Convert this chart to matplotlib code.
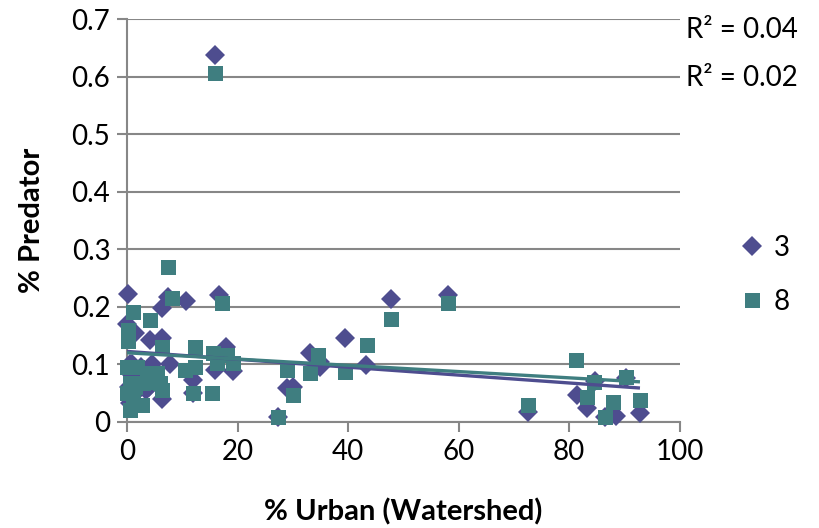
#!/usr/bin/env python3
# Scatter of % predator vs % urban watershed, two sampling series with trendlines.

import matplotlib
matplotlib.use('Agg')
import matplotlib.pyplot as plt
import numpy as np


# Series "3" (diamonds).
x3 = [0.2, 0.0, 1.4, 0.5, 0.3, 0.5, 1.0, 2.0, 3.0, 4.2, 4.5, 5.0, 6.3, 6.3,
      7.4, 6.3, 7.8, 10.7, 11.9, 11.9, 15.9, 16.6, 15.9, 17.9, 19.2, 17.0,
      2.5, 3.5, 0.5, 1.5, 2.0, 3.0, 4.0, 5.0, 1.0, 2.5,
      27.3, 28.9, 30.0, 33.1, 34.9, 35.0, 39.4, 43.2, 47.7, 58.0,
      72.5, 81.4, 83.3, 84.6, 86.4, 88.4, 90.3, 92.8]
y3 = [0.222, 0.170, 0.155, 0.100, 0.060, 0.033, 0.045, 0.090, 0.075, 0.143,
      0.100, 0.090, 0.146, 0.198, 0.217, 0.040, 0.100, 0.210, 0.073, 0.050,
      0.637, 0.220, 0.090, 0.130, 0.088, 0.115, 0.065, 0.055,
      0.085, 0.070, 0.055, 0.090, 0.060, 0.075, 0.100, 0.095,
      0.009, 0.059, 0.061, 0.120, 0.095, 0.105, 0.146, 0.099, 0.213, 0.220,
      0.017, 0.047, 0.024, 0.071, 0.008, 0.010, 0.077, 0.016]

# Series "8" (squares).
x8 = [0.2, 0.2, 1.1, 4.2, 6.3, 7.4, 8.1, 12.3, 15.6, 17.2, 18.1, 19.2, 16.3,
      10.5, 12.3, 15.4, 11.9, 6.3, 2.7, 0.5, 0.0, 1.8, 3.6, 5.4, 6.0, 0.5,
      2.9, 0.0, 1.1, 1.5, 4.0,
      27.3, 28.9, 30.0, 33.1, 34.5, 39.4, 43.4, 47.7, 58.0,
      72.5, 81.2, 83.2, 84.5, 86.4, 87.9, 90.2, 92.8, 15.9]
y8 = [0.160, 0.140, 0.191, 0.177, 0.130, 0.270, 0.215, 0.130, 0.120, 0.207,
      0.116, 0.102, 0.102, 0.090, 0.095, 0.050, 0.050, 0.056, 0.030, 0.020,
      0.095, 0.095, 0.085, 0.085, 0.068, 0.068, 0.068, 0.050, 0.043,
      0.060, 0.070,
      0.009, 0.090, 0.047, 0.085, 0.116, 0.087, 0.134, 0.179, 0.206,
      0.030, 0.108, 0.044, 0.070, 0.009, 0.035, 0.078, 0.038, 0.606]

series_labels = ['3', '8']
r2_labels = ['R² = 0.04', 'R² = 0.02']

color3 = '#4E4D8F'
color8 = '#3F7E80'
grid_color = '#878787'

plt.rcParams['font.family'] = ['Lato', 'DejaVu Sans']

fig = plt.figure(figsize=(8.19, 5.28), dpi=100)
ax = fig.add_axes([0.155, 0.2008, 0.675, 0.7632])

ax.plot(x3, y3, linestyle='none', marker='D', markersize=10.2,
        color=color3, markeredgewidth=0, label=series_labels[0],
        clip_on=False, zorder=3)
ax.plot(x8, y8, linestyle='none', marker='s', markersize=10.8,
        color=color8, markeredgewidth=0, label=series_labels[1],
        clip_on=False, zorder=4)

# Linear trendlines over each series' x range.
for xs, ys, c in [(x3, y3, color3), (x8, y8, color8)]:
    xs = np.array(xs)
    k, b = np.polyfit(xs, ys, 1)
    xx = np.array([xs.min(), xs.max()])
    ax.plot(xx, k * xx + b, color=c, linewidth=2.4, zorder=5,
            solid_capstyle='butt')

ax.set_xlim(0, 100)
ax.set_ylim(0, 0.7)
ax.set_xticks(np.arange(0, 101, 20))
ax.set_yticks(np.arange(0, 0.71, 0.1))
ax.set_yticklabels(['0'] + ['%.1f' % v for v in np.arange(0.1, 0.71, 0.1)])

ax.grid(axis='y', color=grid_color, linewidth=1.5)
ax.set_axisbelow(True)
for s in ['top', 'right']:
    ax.spines[s].set_visible(False)
for s in ['left', 'bottom']:
    ax.spines[s].set_color(grid_color)
    ax.spines[s].set_linewidth(1.5)
ax.tick_params(length=7, width=1.5, color=grid_color, labelsize=20,
               labelcolor='black', pad=5)

ax.set_xlabel('% Urban (Watershed)', fontsize=21, fontweight='bold')
ax.set_ylabel('% Predator', fontsize=21, fontweight='bold')
ax.xaxis.set_label_coords(0.5, -0.19)
ax.yaxis.set_label_coords(-0.148, 0.5)

# R-squared labels for the two trendlines.
ax.text(1.012, 0.972, r2_labels[0], transform=ax.transAxes, fontsize=20,
        va='center', ha='left')
ax.text(1.012, 0.853, r2_labels[1], transform=ax.transAxes, fontsize=20,
        va='center', ha='left')

ax.legend(loc='center left', bbox_to_anchor=(1.06, 0.365), frameon=False,
          fontsize=20, handletextpad=0.3, labelspacing=1.0, handlelength=1.0)

fig.savefig('out.png', dpi=100)
